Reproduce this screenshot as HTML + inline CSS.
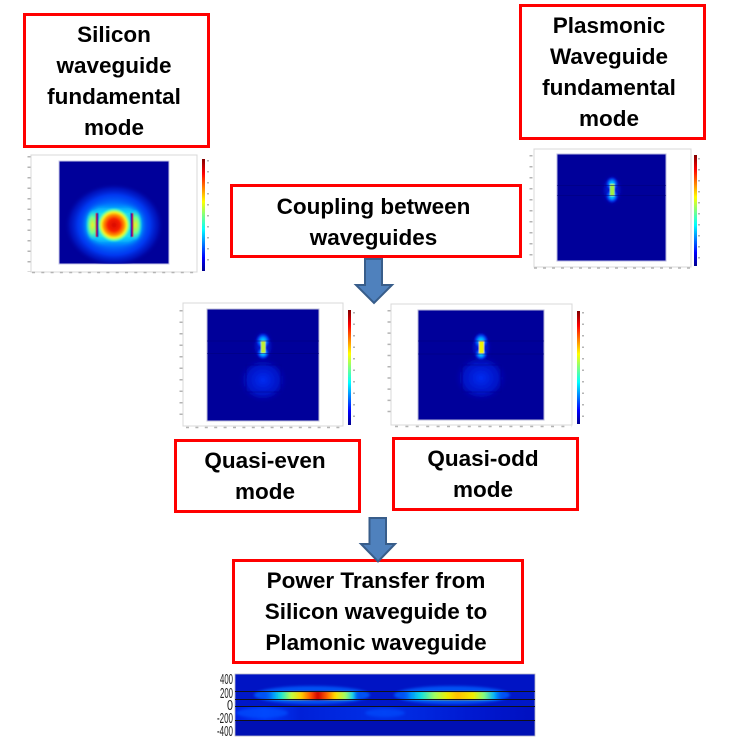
<!DOCTYPE html>
<html>
<head>
<meta charset="utf-8">
<style>
html,body{margin:0;padding:0;background:#fff;}
body{width:729px;height:748px;overflow:hidden;position:relative;}
svg{position:absolute;left:0;top:0;}
.box{position:absolute;box-sizing:border-box;border:3px solid #f00;background:#fff;display:flex;align-items:center;justify-content:center;text-align:center;font-family:"Liberation Sans",sans-serif;font-weight:bold;font-size:22.5px;line-height:31px;color:#000;padding-right:5px;}
</style>
</head>
<body>
<svg width="729" height="748" viewBox="0 0 729 748" font-family="'Liberation Sans',sans-serif">
<defs>
<filter id="b1" x="-20%" y="-20%" width="140%" height="140%"><feGaussianBlur stdDeviation="0.6"/></filter>
<filter id="b2" x="-50%" y="-50%" width="200%" height="200%"><feGaussianBlur stdDeviation="1.2"/></filter>
<filter id="b3" x="-50%" y="-50%" width="200%" height="200%"><feGaussianBlur stdDeviation="3"/></filter>
<filter id="b9" x="-10%" y="-60%" width="120%" height="220%"><feGaussianBlur stdDeviation="1 0.7"/></filter>
<filter id="tb" x="-20%" y="-20%" width="140%" height="140%"><feGaussianBlur stdDeviation="0.35"/></filter>
<linearGradient id="jet" x1="0" y1="1" x2="0" y2="0">
<stop offset="0" stop-color="#00008f"/><stop offset=".12" stop-color="#0000ff"/><stop offset=".37" stop-color="#00ffff"/><stop offset=".5" stop-color="#7fff7f"/><stop offset=".62" stop-color="#ffff00"/><stop offset=".87" stop-color="#ff0000"/><stop offset="1" stop-color="#800000"/>
</linearGradient>
<radialGradient id="outer">
<stop offset="0" stop-color="#0090ff"/><stop offset=".5" stop-color="#0070ff"/><stop offset=".72" stop-color="#0038f0"/><stop offset=".88" stop-color="#0014c0" stop-opacity=".8"/><stop offset="1" stop-color="#00009a" stop-opacity="0"/>
</radialGradient>
<radialGradient id="core">
<stop offset="0" stop-color="#d80800"/><stop offset=".35" stop-color="#f82000"/><stop offset=".58" stop-color="#ff9000"/><stop offset=".72" stop-color="#f8f020"/><stop offset=".85" stop-color="#70ffa0"/><stop offset="1" stop-color="#20e0f0" stop-opacity="0"/>
</radialGradient>
<radialGradient id="lobe">
<stop offset="0" stop-color="#f0f020"/><stop offset=".5" stop-color="#70ff90"/><stop offset="1" stop-color="#10e0f0" stop-opacity="0"/>
</radialGradient>
<radialGradient id="halo">
<stop offset="0" stop-color="#00e8ff"/><stop offset=".4" stop-color="#0090ff"/><stop offset=".7" stop-color="#0030f0" stop-opacity=".8"/><stop offset="1" stop-color="#00009a" stop-opacity="0"/>
</radialGradient>
<radialGradient id="wide">
<stop offset="0" stop-color="#0040ff"/><stop offset=".5" stop-color="#0018d0" stop-opacity=".8"/><stop offset="1" stop-color="#00009a" stop-opacity="0"/>
</radialGradient>
<radialGradient id="soft">
<stop offset="0" stop-color="#002cf0"/><stop offset=".65" stop-color="#0012c4"/><stop offset="1" stop-color="#0000a0" stop-opacity="0"/>
</radialGradient>
<linearGradient id="strip" x1="0" y1="0" x2="1" y2="0">
<stop offset="0" stop-color="#0020e0"/><stop offset=".1" stop-color="#0038f8"/><stop offset=".22" stop-color="#0020d8"/><stop offset=".5" stop-color="#0030e8"/><stop offset=".8" stop-color="#0018d0"/><stop offset="1" stop-color="#0010c0"/>
</linearGradient>
<linearGradient id="hA">
<stop offset="0" stop-color="#0040f0" stop-opacity="0"/><stop offset=".12" stop-color="#00a0ff"/><stop offset=".2" stop-color="#20e8d0"/><stop offset=".3" stop-color="#c0ff40"/><stop offset=".4" stop-color="#ffd000"/><stop offset=".5" stop-color="#ff5000"/><stop offset=".57" stop-color="#d00000"/><stop offset=".66" stop-color="#ff6000"/><stop offset=".75" stop-color="#ffe000"/><stop offset=".85" stop-color="#a0ff60"/><stop offset=".93" stop-color="#10d0f0"/><stop offset="1" stop-color="#0040f0" stop-opacity="0"/>
</linearGradient>
<linearGradient id="hB">
<stop offset="0" stop-color="#0040f0" stop-opacity="0"/><stop offset=".1" stop-color="#0090ff"/><stop offset=".2" stop-color="#10e0e0"/><stop offset=".33" stop-color="#a0ff60"/><stop offset=".45" stop-color="#f0f000"/><stop offset=".55" stop-color="#ffc000"/><stop offset=".7" stop-color="#f0f000"/><stop offset=".8" stop-color="#80ff80"/><stop offset=".9" stop-color="#00b0ff"/><stop offset="1" stop-color="#0040f0" stop-opacity="0"/>
</linearGradient>
</defs>

<!-- Plot 1: silicon -->
<rect x="31" y="155" width="166" height="117" fill="#fff" stroke="#d8d8d8"/>
<rect x="59" y="161" width="110" height="103" fill="#00009a" stroke="#c8c8e8"/>
<clipPath id="c1"><rect x="59" y="161" width="110" height="103"/></clipPath>
<g clip-path="url(#c1)">
<ellipse cx="114" cy="225" rx="50" ry="42" fill="url(#outer)"/>
<rect x="87" y="208" width="54" height="34" rx="14" fill="#10d8f8" filter="url(#b3)"/>
<g filter="url(#b1)">
<ellipse cx="92.500" cy="225" rx="7" ry="16" fill="url(#lobe)"/>
<ellipse cx="135.500" cy="225" rx="7" ry="16" fill="url(#lobe)"/>
<rect x="98" y="213" width="32" height="24" fill="#20d8f0"/>
<circle cx="114" cy="225" r="17.500" fill="url(#core)"/>
<rect x="95.500" y="213" width="1.500" height="24" fill="#c01000"/>
<rect x="97" y="213" width="1.500" height="24" fill="#0000b8"/>
<rect x="130.500" y="213" width="1.500" height="24" fill="#0000b8"/>
<rect x="132" y="213" width="1.500" height="24" fill="#c01000"/>
</g>
</g>
<rect x="202" y="159" width="3" height="112" fill="url(#jet)" filter="url(#tb)"/>
<g stroke="#b4b4b4" fill="none">
<path d="M32 272.500H197" stroke-width="1.500" stroke-dasharray="3 6.300"/>
<path d="M29 156V272" stroke-width="3" stroke-dasharray="1.500 9"/>
<path d="M208 160V270" stroke-width="2" stroke-dasharray="1.500 9.500"/>
</g>

<!-- Plot 2: plasmonic -->
<rect x="534" y="149" width="157" height="118" fill="#fff" stroke="#d8d8d8"/>
<rect x="557" y="154" width="109" height="107" fill="#00009a" stroke="#b8b8e0"/>
<g filter="url(#b1)">
<ellipse cx="612" cy="190" rx="12" ry="18" fill="url(#wide)"/>
<ellipse cx="612" cy="184" rx="7" ry="8" fill="url(#halo)"/>
<ellipse cx="612" cy="196" rx="7" ry="8" fill="url(#halo)"/>
<rect x="610" y="184" width="4.500" height="12" fill="#a0f040"/>
</g>
<path d="M557 185.500H666M557 195.500H666" stroke="#000078" stroke-width=".5"/>
<rect x="694" y="155" width="3" height="111" fill="url(#jet)" filter="url(#tb)"/>
<g stroke="#b4b4b4" fill="none">
<path d="M534 268H691" stroke-width="1.500" stroke-dasharray="3 6"/>
<path d="M531 155V262" stroke-width="3" stroke-dasharray="1.500 9.500"/>
<path d="M699 158V265" stroke-width="2" stroke-dasharray="1.500 9.500"/>
</g>

<!-- Plot 3: quasi-even -->
<rect x="183" y="303" width="160" height="123" fill="#fff" stroke="#d8d8d8"/>
<rect x="207" y="309" width="112" height="112" fill="#00009a" stroke="#c0c0d8"/>
<g filter="url(#b1)">
<ellipse cx="263" cy="380" rx="25" ry="23" fill="url(#soft)"/>
<rect x="246" y="365" width="35" height="27" fill="none" stroke="#000090" stroke-width=".6"/>
<ellipse cx="263" cy="346" rx="12" ry="18" fill="url(#wide)"/>
<ellipse cx="263" cy="341" rx="8" ry="9" fill="url(#halo)"/>
<ellipse cx="263" cy="353" rx="7" ry="7" fill="url(#halo)"/>
<rect x="261" y="341" width="4.500" height="12" fill="#c0f030"/>
</g>
<path d="M207 341H319M207 353.500H319" stroke="#000078" stroke-width=".5"/>
<rect x="348" y="310" width="3" height="115" fill="url(#jet)" filter="url(#tb)"/>
<g stroke="#b4b4b4" fill="none">
<path d="M186 427.500H343" stroke-width="1.500" stroke-dasharray="3 6.400"/>
<path d="M181 310V420" stroke-width="3" stroke-dasharray="1.500 10"/>
<path d="M354 312V424" stroke-width="2" stroke-dasharray="1.500 10"/>
</g>

<!-- Plot 4: quasi-odd -->
<rect x="391" y="304" width="181" height="121" fill="#fff" stroke="#d8d8d8"/>
<rect x="418" y="310" width="126" height="110" fill="#00009a" stroke="#b8b8d8"/>
<g filter="url(#b1)">
<ellipse cx="481" cy="378" rx="27" ry="24" fill="url(#soft)"/>
<rect x="462" y="365" width="39" height="27" fill="none" stroke="#000090" stroke-width=".6"/>
<ellipse cx="481" cy="347" rx="12" ry="18" fill="url(#wide)"/>
<ellipse cx="481" cy="341" rx="8" ry="9" fill="url(#halo)"/>
<ellipse cx="481" cy="354" rx="7" ry="7" fill="url(#halo)"/>
<rect x="479" y="341" width="5" height="12.500" fill="#f0f000"/>
</g>
<path d="M418 341H544M418 354H544" stroke="#000078" stroke-width=".5"/>
<rect x="577" y="311" width="3" height="113" fill="url(#jet)" filter="url(#tb)"/>
<g stroke="#b4b4b4" fill="none">
<path d="M395 426.500H572" stroke-width="1.500" stroke-dasharray="3 7.400"/>
<path d="M389 310V420" stroke-width="3" stroke-dasharray="1.500 9.700"/>
<path d="M583 312V424" stroke-width="2" stroke-dasharray="1.500 10"/>
</g>

<!-- Strip -->
<clipPath id="c2"><rect x="235" y="674" width="300" height="62"/></clipPath>
<g clip-path="url(#c2)">
<rect x="235" y="674" width="300" height="62" fill="#0018c8"/>
<rect x="235" y="674" width="300" height="18" fill="#0014c4"/>
<rect x="235" y="706" width="300" height="14" fill="url(#strip)"/>
<rect x="235" y="720" width="300" height="16" fill="#0010b4"/>
<g filter="url(#b2)">
<ellipse cx="262" cy="713" rx="26" ry="5" fill="#0050ff" opacity=".7"/>
<ellipse cx="385" cy="713" rx="20" ry="4" fill="#0050ff" opacity=".6"/>
<ellipse cx="312" cy="695" rx="58" ry="9" fill="#0060ff" opacity=".8"/>
<ellipse cx="452" cy="695" rx="58" ry="9" fill="#0060ff" opacity=".8"/>
</g>
<rect x="262" y="691.500" width="98" height="8.500" fill="url(#hA)" filter="url(#b9)"/>
<rect x="400" y="691.500" width="105" height="8.500" fill="url(#hB)" filter="url(#b9)"/>
</g>
<rect x="235" y="674" width="300" height="62" fill="none" stroke="#b8b8c8" stroke-width=".8"/>
<g stroke="#101018" stroke-width="1">
<path d="M235 691.500H535M235 699.500H535M235 706.500H535M235 720.500H535"/>
</g>
<g font-size="14.500" fill="#222" text-anchor="end" filter="url(#tb)">
<text x="233" y="684" textLength="13" lengthAdjust="spacingAndGlyphs">400</text>
<text x="233" y="698" textLength="13" lengthAdjust="spacingAndGlyphs">200</text>
<text x="233" y="710" textLength="6" lengthAdjust="spacingAndGlyphs">0</text>
<text x="233" y="723" textLength="16" lengthAdjust="spacingAndGlyphs">-200</text>
<text x="233" y="736" textLength="16" lengthAdjust="spacingAndGlyphs">-400</text>
</g>
</svg>

<div class="box" style="left:23px;top:13px;width:187px;height:135px;">Silicon<br>waveguide<br>fundamental<br>mode</div>
<div class="box" style="left:519px;top:4px;width:187px;height:136px;padding-right:7px;">Plasmonic<br>Waveguide<br>fundamental<br>mode</div>
<div class="box" style="left:230px;top:184px;width:292px;height:74px;padding-top:2px;">Coupling between<br>waveguides</div>
<div class="box" style="left:174px;top:439px;width:187px;height:74px;">Quasi-even<br>mode</div>
<div class="box" style="left:392px;top:437px;width:187px;height:74px;">Quasi-odd<br>mode</div>
<div class="box" style="left:232px;top:559px;width:292px;height:105px;padding-right:4px;">Power Transfer from<br>Silicon waveguide to<br>Plamonic waveguide</div>

<svg width="729" height="748" viewBox="0 0 729 748">
<path d="M365 259H382V285H392L374 303L356 285H365Z" fill="#4f81bd" stroke="#385d8a" stroke-width="2"/>
<path d="M369.500 518H386V544H395L378 561.500L361 544H369.500Z" fill="#4f81bd" stroke="#385d8a" stroke-width="2"/>
</svg>
</body>
</html>
